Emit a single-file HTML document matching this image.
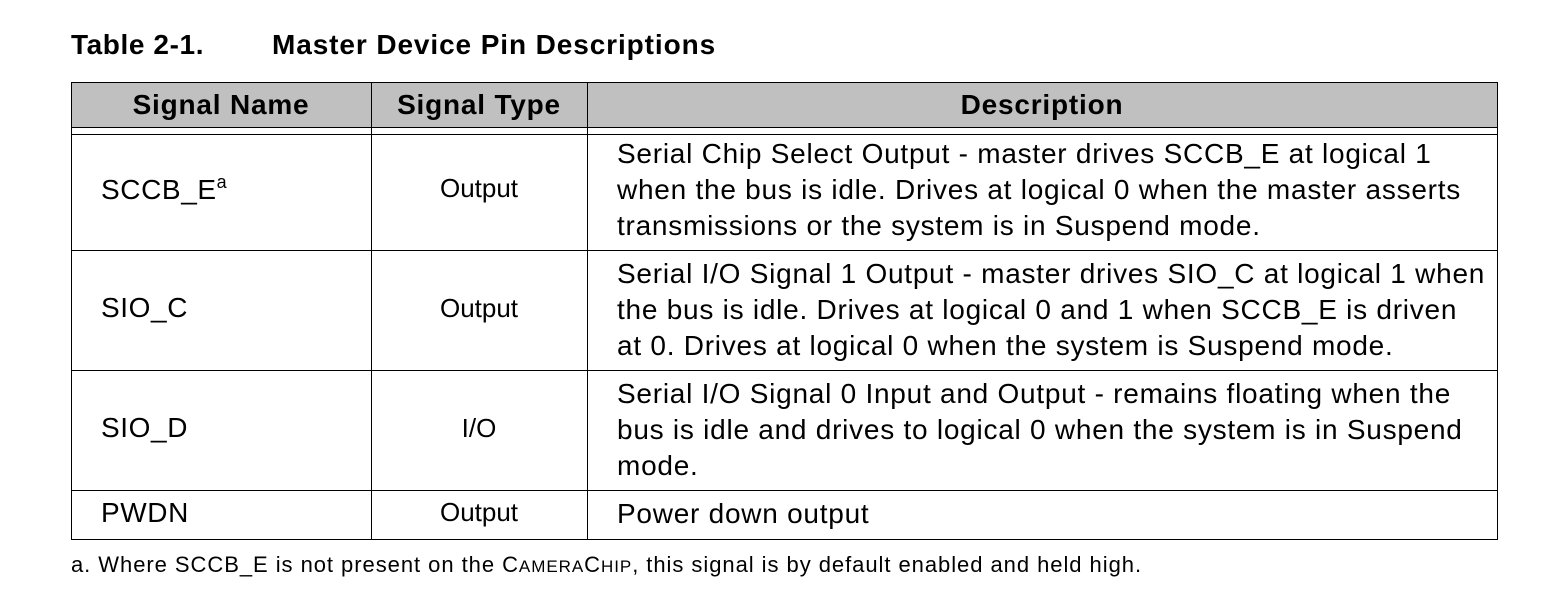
<!DOCTYPE html>
<html><head><style>
body{margin:0;width:1541px;height:593px;background:#fff;position:relative;font-family:"Liberation Sans",Arial,sans-serif;color:#000;overflow:hidden}
.a{position:absolute;white-space:nowrap}
.h{position:absolute;background:#000;height:1px}
.v{position:absolute;background:#000;width:1px}
.d{font-size:28px;letter-spacing:0.75px;line-height:36px}
</style></head><body>
<div class="a" style="left:71px;top:29px;font-size:28px;font-weight:bold;letter-spacing:0.6px">Table 2-1.</div>
<div class="a" style="left:272px;top:29px;font-size:28px;font-weight:bold;letter-spacing:0.9px">Master Device Pin Descriptions</div>
<div style="position:absolute;left:71px;top:82px;width:1426px;height:45px;background:#c0c0c0"></div>
<div class="h" style="left:71px;top:82px;width:1427px"></div>
<div class="h" style="left:71px;top:127px;width:1427px"></div>
<div class="h" style="left:71px;top:134px;width:1427px"></div>
<div class="h" style="left:71px;top:250px;width:1427px"></div>
<div class="h" style="left:71px;top:370px;width:1427px"></div>
<div class="h" style="left:71px;top:490px;width:1427px"></div>
<div class="h" style="left:71px;top:539px;width:1427px"></div>
<div class="v" style="left:71px;top:82px;height:458px"></div>
<div class="v" style="left:371px;top:82px;height:458px"></div>
<div class="v" style="left:587px;top:82px;height:458px"></div>
<div class="v" style="left:1497px;top:82px;height:458px"></div>
<div class="a" style="left:71px;width:300px;text-align:center;top:89px;font-size:28px;font-weight:bold;letter-spacing:0.8px">Signal Name</div>
<div class="a" style="left:371px;width:216px;text-align:center;top:89px;font-size:28px;font-weight:bold;letter-spacing:0.8px">Signal Type</div>
<div class="a" style="left:587px;width:910px;text-align:center;top:89px;font-size:28px;font-weight:bold;letter-spacing:0.8px">Description</div>
<div class="a" style="left:101px;top:172px;font-size:28px;letter-spacing:0.6px">SCCB_E<sup style="font-size:18px;vertical-align:11px">a</sup></div>
<div class="a" style="left:101px;top:292px;font-size:28px;letter-spacing:0.6px">SIO_C</div>
<div class="a" style="left:101px;top:412px;font-size:28px;letter-spacing:0.6px">SIO_D</div>
<div class="a" style="left:101px;top:497px;font-size:28px;letter-spacing:0.6px">PWDN</div>
<div class="a" style="left:371px;width:216px;text-align:center;top:173px;font-size:26px">Output</div>
<div class="a" style="left:371px;width:216px;text-align:center;top:293px;font-size:26px">Output</div>
<div class="a" style="left:371px;width:216px;text-align:center;top:413px;font-size:26px">I/O</div>
<div class="a" style="left:371px;width:216px;text-align:center;top:497px;font-size:26px">Output</div>
<div class="a d" style="left:617px;top:136px">Serial Chip Select Output - master drives SCCB_E at logical 1<br>when the bus is idle. Drives at logical 0 when the master asserts<br>transmissions or the system is in Suspend mode.</div>
<div class="a d" style="left:617px;top:256px">Serial I/O Signal 1 Output - master drives SIO_C at logical 1 when<br>the bus is idle. Drives at logical 0 and 1 when SCCB_E is driven<br>at 0. Drives at logical 0 when the system is Suspend mode.</div>
<div class="a d" style="left:617px;top:376px">Serial I/O Signal 0 Input and Output - remains floating when the<br>bus is idle and drives to logical 0 when the system is in Suspend<br>mode.</div>
<div class="a d" style="left:617px;top:496px">Power down output</div>
<div class="a" style="left:71px;top:552px;font-size:22px;letter-spacing:0.95px">a. Where SCCB_E is not present on the C<span style="font-size:17px">AMERA</span>C<span style="font-size:17px">HIP</span>, this signal is by default enabled and held high.</div>
</body></html>
